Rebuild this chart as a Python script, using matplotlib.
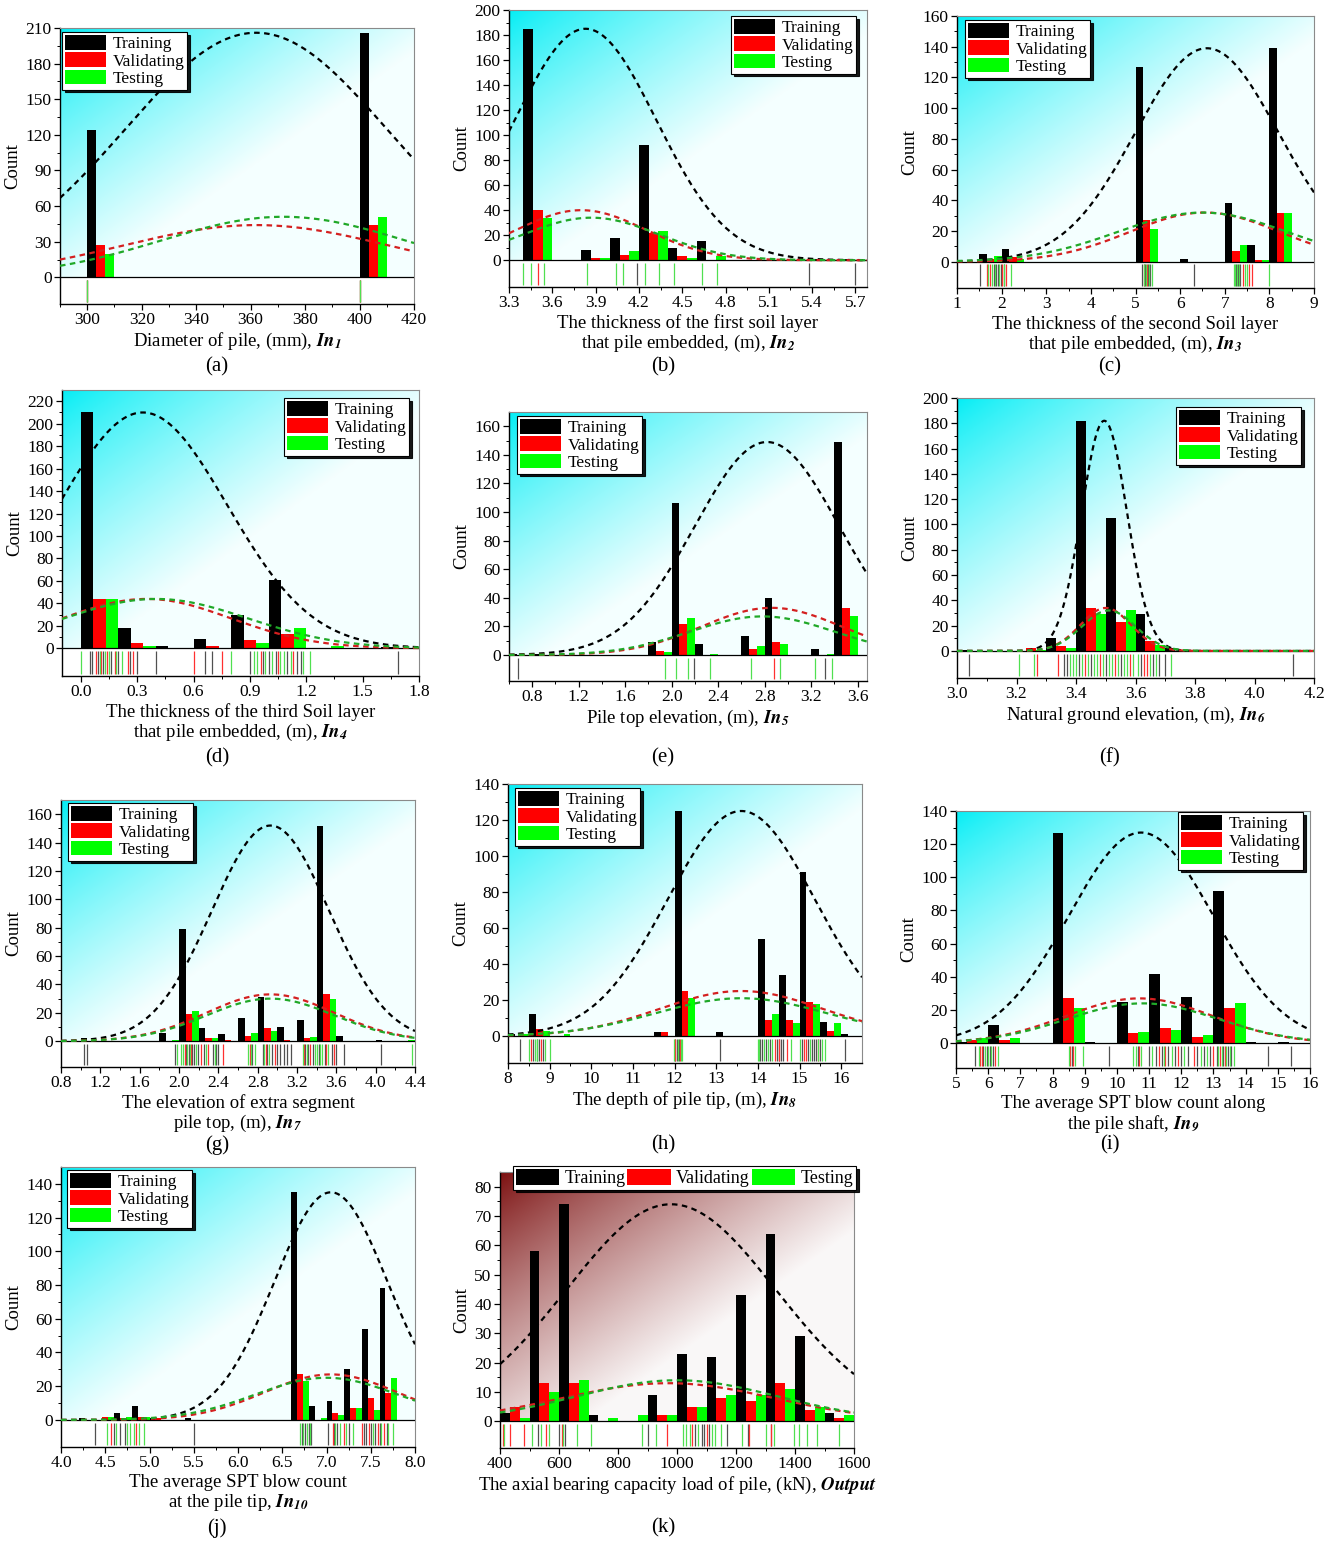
import numpy as np
import matplotlib
matplotlib.use("Agg")
import matplotlib.pyplot as plt
from matplotlib.patches import Patch
from matplotlib.ticker import FixedLocator, FormatStrFormatter

# ======================= DATA =======================
series_names = ["Training", "Validating", "Testing"]

# (a) Diameter of pile
a_bins = [300, 400]
a_width = 10
a_train = [124, 206]
a_val = [27, 44]
a_test = [20, 51]
a_fit = [[362, 48, 206], [362, 49, 44], [372, 45, 51]]   # mean, sd, peak
a_rug_train = [300, 400]
a_rug_val = [300, 400]
a_rug_test = [300, 400]

# (b) thickness of first soil layer
b_bins = [3.4, 3.8, 4.0, 4.2, 4.4, 4.6, 5.4, 5.6]
b_width = 0.2
b_train = [185, 8, 18, 92, 10, 15, 1, 1]
b_val = [40, 2, 4, 22, 3, 0, 0, 0]
b_test = [34, 2, 7, 23, 2, 3, 0, 0]
b_fit = [[3.83, 0.49, 185], [3.80, 0.45, 40], [3.87, 0.47, 34]]
b_rug_train = [4.19, 5.38, 5.70]
b_rug_val = [3.50]
b_rug_test = [3.40, 3.45, 3.54, 3.84, 4.04, 4.09, 4.24, 4.34, 4.44, 4.64, 4.74]

# (c) thickness of second soil layer
c_bins = [1.5, 2.0, 5.0, 6.0, 7.0, 7.5, 8.0]
c_width = 0.5
c_train = [5, 8, 127, 2, 38, 11, 139]
c_val = [2, 3, 27, 0, 7, 1, 32]
c_test = [4, 2, 21, 0, 11, 1, 32]
c_fit = [[6.6, 1.6, 139], [6.55, 1.68, 32], [6.5, 1.9, 32]]
c_rug_train = [1.51, 1.82, 1.88, 1.92, 1.98, 2.05, 5.15, 5.22, 5.28, 5.33, 6.30, 7.25, 7.30, 7.35]
c_rug_val = [1.68, 1.75, 2.00, 2.10, 5.20, 5.26, 7.40, 7.55, 7.62]
c_rug_test = [1.70, 1.78, 1.85, 1.95, 2.05, 2.20, 5.18, 5.24, 5.30, 5.36,
              7.20, 7.23, 7.28, 7.32, 7.45, 7.50, 8.00]

# (d) thickness of third soil layer
d_bins = [0.0, 0.2, 0.4, 0.6, 0.8, 1.0, 1.2, 1.6]
d_width = 0.2
d_train = [210, 18, 2, 8, 30, 61, 0, 1]
d_val = [44, 5, 0, 2, 7, 13, 0, 0]
d_test = [44, 2, 0, 0, 5, 18, 2, 0]
d_fit = [[0.33, 0.45, 210], [0.35, 0.45, 44], [0.40, 0.49, 44]]
d_rug_train = [0.05, 0.06, 0.09, 0.12, 0.16, 0.20, 0.26, 0.30, 0.40, 0.66, 0.70,
               0.90, 0.97, 1.00, 1.04, 1.10, 1.15, 1.17, 1.69]
d_rug_val = [0.08, 0.11, 0.14, 0.18, 0.25, 0.28, 0.60, 0.75, 0.96, 1.05, 1.13]
d_rug_test = [0.0, 0.10, 0.13, 0.15, 0.19, 0.22, 0.80, 0.92, 0.94, 0.98, 1.02,
              1.06, 1.08, 1.12, 1.18, 1.22]

# (e) pile top elevation
e_bins = [0.6, 0.8, 1.8, 2.0, 2.2, 2.6, 2.8, 3.2, 3.4]
e_width = 0.2
e_train = [1, 1, 9, 106, 8, 13, 40, 4, 149]
e_val = [0, 0, 3, 22, 0, 4, 9, 0, 33]
e_test = [0, 0, 2, 26, 1, 6, 8, 1, 27]
e_fit = [[2.82, 0.62, 149], [2.86, 0.60, 33], [2.78, 0.62, 27]]
e_rug_train = [0.68, 2.19, 3.32]
e_rug_val = [2.88]
e_rug_test = [1.94, 2.04, 2.14, 2.33, 2.68, 2.93, 3.23, 3.38]

# (f) natural ground elevation
f_bins = [3.0, 3.2, 3.3, 3.4, 3.5, 3.6, 3.7, 4.1]
f_width = 0.1
f_train = [1, 0, 10, 182, 105, 29, 2, 1]
f_val = [0, 2, 4, 34, 23, 8, 0, 0]
f_test = [0, 1, 2, 29, 32, 5, 1, 0]
f_fit = [[3.495, 0.076, 182], [3.50, 0.085, 34], [3.51, 0.09, 32]]
f_rug_train = [3.04, 3.36, 3.37, 3.41, 3.45, 3.50, 3.55, 3.62, 3.66, 3.68, 3.70, 4.13]
f_rug_val = [3.27, 3.34, 3.43, 3.48, 3.53, 3.58, 3.63, 3.64]
f_rug_test = [3.21, 3.26, 3.38, 3.39, 3.40, 3.42, 3.44, 3.46, 3.47, 3.49, 3.51, 3.52,
              3.54, 3.56, 3.57, 3.59, 3.61, 3.65, 3.67, 3.72]

# (g) elevation of extra segment pile top
g_bins = [1.0, 1.8, 2.0, 2.2, 2.4, 2.6, 2.8, 3.0, 3.2, 3.4, 3.6, 4.0, 4.2]
g_width = 0.2
g_train = [2, 6, 79, 9, 5, 16, 31, 10, 15, 152, 4, 1, 0]
g_val = [0, 0, 19, 2, 1, 4, 9, 1, 2, 33, 0, 0, 0]
g_test = [0, 1, 21, 2, 0, 6, 7, 0, 3, 30, 0, 0, 1]
g_fit = [[2.93, 0.595, 152], [2.93, 0.65, 33], [2.93, 0.65, 30]]
g_rug_train = [1.03, 1.06, 1.96, 2.07, 2.10, 2.13, 2.15, 2.19, 2.25, 2.35, 2.38, 2.40,
               2.74, 2.85, 2.90, 2.95, 3.00, 3.03, 3.07, 3.10, 3.14, 3.28, 3.31, 3.36,
               3.42, 3.48, 3.56, 3.60, 3.68, 4.05]
g_rug_val = [2.06, 2.12, 2.22, 2.30, 2.45, 2.72, 2.88, 2.98, 3.27, 3.33, 3.50, 3.58]
g_rug_test = [1.98, 2.02, 2.04, 2.08, 2.11, 2.17, 2.27, 2.37, 2.70, 2.73, 2.77, 2.86,
              2.92, 3.26, 3.30, 3.38, 3.40, 3.43, 3.45, 3.52, 4.37]

# (h) depth of pile tip
h_bins = [8.0, 8.5, 9.0, 11.5, 12.0, 13.0, 14.0, 14.5, 15.0, 15.5, 16.0]
h_width = 0.5
h_train = [1, 12, 0, 2, 125, 2, 54, 34, 91, 8, 1]
h_val = [0, 4, 0, 2, 25, 0, 9, 9, 19, 3, 0]
h_test = [1, 3, 1, 0, 21, 0, 12, 7, 18, 7, 0]
h_fit = [[13.6, 1.77, 125], [13.6, 1.95, 25], [13.6, 2.05, 21]]
h_rug_train = [8.3, 8.6, 8.7, 8.75, 8.85, 12.0, 12.05, 12.1, 13.1, 14.05, 14.1, 14.2,
               14.3, 14.45, 14.5, 14.55, 14.6, 15.05, 15.2, 15.3, 15.35, 15.4, 15.5, 16.1]
h_rug_val = [8.55, 8.8, 12.02, 12.12, 14.4, 14.5, 14.7, 15.1, 15.15, 15.45]
h_rug_test = [8.5, 8.65, 8.7, 8.9, 9.0, 11.98, 12.08, 12.15, 12.18, 14.0, 14.02, 14.15,
              14.25, 14.35, 14.8, 15.0, 15.25, 15.45, 15.55, 15.6]

# (i) average SPT blow count along the pile shaft
i_bins = [5, 6, 8, 9, 10, 11, 12, 13, 14, 15]
i_width = 1.0
i_train = [1, 11, 127, 1, 25, 42, 28, 92, 1, 1]
i_val = [2, 2, 27, 0, 6, 9, 4, 21, 0, 0]
i_test = [3, 3, 21, 0, 7, 8, 5, 24, 0, 0]
i_fit = [[10.75, 2.24, 127], [10.7, 2.28, 27], [10.8, 2.35, 24]]
i_rug_train = [5.58, 5.85, 5.95, 6.05, 6.15, 8.6, 9.74, 10.65, 11.0, 11.2, 11.4, 11.6,
               11.8, 12.0, 12.2, 12.5, 12.7, 12.9, 13.1, 13.3, 13.45, 13.55, 14.69, 15.41]
i_rug_val = [5.75, 5.8, 6.2, 8.55, 8.65, 10.7, 11.3, 11.5, 11.9, 12.4, 13.0, 13.2, 13.35]
i_rug_test = [5.72, 5.9, 6.0, 6.1, 6.3, 8.5, 8.7, 8.95, 10.5, 10.6, 10.75, 11.1, 11.45,
              11.7, 12.1, 12.6, 12.8, 13.15, 13.25, 13.4, 13.5, 13.65]

# (j) average SPT blow count at the pile tip
j_bins = [4.2, 4.4, 4.6, 4.8, 5.0, 5.4, 6.6, 6.8, 7.0, 7.2, 7.4, 7.6]
j_width = 0.2
j_train = [1, 0, 4, 8, 1, 1, 135, 8, 11, 30, 54, 78]
j_val = [0, 2, 1, 2, 1, 0, 27, 0, 4, 7, 13, 16]
j_test = [0, 2, 2, 2, 0, 0, 23, 1, 3, 7, 6, 25]
j_fit = [[7.05, 0.64, 135], [7.05, 0.75, 27], [7.0, 0.80, 25]]
j_rug_train = [4.38, 4.60, 4.67, 4.72, 5.50, 6.72, 6.76, 6.80, 6.83, 7.02, 7.08, 7.12,
               7.25, 7.42, 7.45, 7.50, 7.55, 7.60, 7.68]
j_rug_val = [4.57, 4.85, 7.07, 7.20, 7.40, 7.48, 7.58, 7.65]
j_rug_test = [4.52, 4.62, 4.75, 4.78, 4.82, 4.88, 4.94, 6.70, 6.74, 6.78, 6.81, 7.10,
              7.15, 7.22, 7.30, 7.52, 7.62, 7.70, 7.75]

# (k) axial bearing capacity (output)
k_bins = [400, 500, 600, 700, 800, 900, 1000, 1100, 1200, 1300, 1400, 1500]
k_width = 100
k_train = [3, 58, 74, 2, 0, 9, 23, 22, 43, 64, 29, 3]
k_val = [5, 13, 13, 0, 0, 2, 5, 8, 7, 13, 4, 1]
k_test = [1, 10, 14, 1, 2, 2, 5, 9, 9, 11, 5, 2]
k_fit = [[980, 355, 74], [970, 360, 13], [1000, 342, 14]]
k_rug_train = [530, 600, 620, 900, 1060, 1085, 1090, 1110, 1170, 1240, 1320]
k_rug_val = [410, 435, 480, 555, 610, 965, 1050, 1100, 1245, 1320]
k_rug_test = [415, 510, 540, 565, 615, 660, 710, 880, 930, 1020, 1030, 1045, 1070, 1120,
              1130, 1150, 1220, 1300, 1330, 1395, 1415, 1440, 1475, 1550]

IN = lambda n: r"$\mathbfit{In}_{\mathbfit{%s}}$" % n
xlabels = {
    "a": "Diameter of pile, (mm), " + IN(1),
    "b": "The thickness of the first soil layer\nthat pile embedded, (m), " + IN(2),
    "c": "The thickness of the second Soil layer\nthat pile embedded, (m), " + IN(3),
    "d": "The thickness of the third Soil layer\nthat pile embedded, (m), " + IN(4),
    "e": "Pile top elevation, (m), " + IN(5),
    "f": "Natural ground elevation, (m), " + IN(6),
    "g": "The elevation of extra segment\npile top, (m), " + IN(7),
    "h": "The depth of pile tip, (m), " + IN(8),
    "i": "The average SPT blow count along\nthe pile shaft, " + IN(9),
    "j": "The average SPT blow count\nat the pile tip, " + IN(10),
    "k": "The axial bearing capacity load of pile, (kN), " + r"$\mathbfit{Output}$",
}

# ======================= LAYOUT / STYLE =======================
plt.rcParams["font.family"] = ["Liberation Serif", "DejaVu Serif"]
plt.rcParams["mathtext.fontset"] = "stix"

W, H = 1335, 1543
fig = plt.figure(figsize=(W / 100, H / 100), dpi=100)

# left, right, top, bottom (pixels)
POS = {
    "a": (60, 414, 28, 304), "b": (509, 867, 10, 287), "c": (957, 1314, 16, 288),
    "d": (62, 419, 390, 676), "e": (509, 867, 412, 681), "f": (957, 1314, 398, 678),
    "g": (61, 415, 800, 1067), "h": (508, 862, 784, 1063), "i": (956, 1310, 811, 1068),
    "j": (61, 415, 1167, 1447), "k": (500, 854, 1172, 1448),
}
AX = {  # xlim, xticks(start, stop, step), fmt, ymax, ytick step
    "a": ((290, 420), (300, 420, 20), "%d", 210, 30),
    "b": ((3.3, 5.78), (3.3, 5.7, 0.3), "%.1f", 200, 20),
    "c": ((1, 9), (1, 9, 1), "%d", 160, 20),
    "d": ((-0.1, 1.8), (0.0, 1.8, 0.3), "%.1f", 230, 20),
    "e": ((0.6, 3.68), (0.8, 3.6, 0.4), "%.1f", 170, 20),
    "f": ((3.0, 4.2), (3.0, 4.2, 0.2), "%.1f", 200, 20),
    "g": ((0.8, 4.4), (0.8, 4.4, 0.4), "%.1f", 170, 20),
    "h": ((8, 16.5), (8, 16, 1), "%d", 140, 20),
    "i": ((5, 16), (5, 16, 1), "%d", 140, 20),
    "j": ((4.0, 8.0), (4.0, 8.0, 0.5), "%.1f", 150, 20),
    "k": ((400, 1600), (400, 1600, 200), "%d", 85, 10),
}
LEG = {
    "a": ("upper left", 62, 32), "b": ("upper right", 856, 16), "c": ("upper left", 965, 20),
    "d": ("upper right", 409, 398), "e": ("upper left", 517, 416), "f": ("upper right", 1301, 407),
    "g": ("upper left", 68, 803), "h": ("upper left", 515, 788), "i": ("upper right", 1303, 812),
    "j": ("upper left", 67, 1170), "k": ("upper right", 856, 1166),
}
LABEL_POS = {"a": (217, 367), "b": (663, 367), "c": (1110, 367),
             "d": (217, 758), "e": (663, 758), "f": (1110, 758),
             "g": (217, 1145), "h": (663, 1145), "i": (1110, 1145),
             "j": (217, 1528), "k": (663, 1528)}

BAR_COLORS = ["#000000", "#FF0000", "#00FF00"]
FIT_COLORS = ["#000000", "#D42020", "#20A828"]
RUG_COLORS = ["#505050", "#FF3030", "#50E050"]
RUG_FRAC = 0.107

PANELS = {
    "a": (a_bins, a_width, a_train, a_val, a_test, a_fit, a_rug_train, a_rug_val, a_rug_test),
    "b": (b_bins, b_width, b_train, b_val, b_test, b_fit, b_rug_train, b_rug_val, b_rug_test),
    "c": (c_bins, c_width, c_train, c_val, c_test, c_fit, c_rug_train, c_rug_val, c_rug_test),
    "d": (d_bins, d_width, d_train, d_val, d_test, d_fit, d_rug_train, d_rug_val, d_rug_test),
    "e": (e_bins, e_width, e_train, e_val, e_test, e_fit, e_rug_train, e_rug_val, e_rug_test),
    "f": (f_bins, f_width, f_train, f_val, f_test, f_fit, f_rug_train, f_rug_val, f_rug_test),
    "g": (g_bins, g_width, g_train, g_val, g_test, g_fit, g_rug_train, g_rug_val, g_rug_test),
    "h": (h_bins, h_width, h_train, h_val, h_test, h_fit, h_rug_train, h_rug_val, h_rug_test),
    "i": (i_bins, i_width, i_train, i_val, i_test, i_fit, i_rug_train, i_rug_val, i_rug_test),
    "j": (j_bins, j_width, j_train, j_val, j_test, j_fit, j_rug_train, j_rug_val, j_rug_test),
    "k": (k_bins, k_width, k_train, k_val, k_test, k_fit, k_rug_train, k_rug_val, k_rug_test),
}


def gradient(ax, x0, x1, y1, c0, c1, spread=0.55, gamma=0.8):
    nx, ny = 300, 300
    xn = np.linspace(0, 1, nx)[None, :]
    yn = np.linspace(0, 1, ny)[:, None]
    t = (xn + (1 - yn)) / 2.0
    s = np.clip(t / spread, 0, 1) ** gamma
    c0 = np.array(c0)[None, None, :]
    c1 = np.array(c1)[None, None, :]
    img = c0 * (1 - s[..., None]) + c1 * s[..., None]
    ax.imshow(img, extent=[x0, x1, 0, y1], origin="lower", aspect="auto",
              zorder=0, interpolation="bilinear")


for key, (bins, w, tr, va, te, fits, rtr, rva, rte) in PANELS.items():
    l, r, t, b = POS[key]
    ax = fig.add_axes([l / W, 1 - b / H, (r - l) / W, (b - t) / H])
    (x0, x1), (ts, te_, tstep), fmt, ymax, ystep = AX[key]
    rug = RUG_FRAC * ymax
    ax.set_xlim(x0, x1)
    ax.set_ylim(-rug, ymax)

    if key == "k":
        gradient(ax, x0, x1, ymax, (0.48, 0.05, 0.05), (0.98, 0.97, 0.97), spread=0.62, gamma=0.85)
    else:
        gradient(ax, x0, x1, ymax, (0.0, 0.93, 0.96), (0.96, 1.0, 1.0))

    sub = w / 3.0
    bins_arr = np.array(bins, dtype=float)
    for k_, vals in enumerate([tr, va, te]):
        ax.bar(bins_arr + k_ * sub, vals, width=sub, align="edge",
               color=BAR_COLORS[k_], edgecolor="none", zorder=2)

    xs = np.linspace(x0, x1, 500)
    for k_, (m, sd, pk) in enumerate(fits):
        ax.plot(xs, pk * np.exp(-0.5 * ((xs - m) / sd) ** 2), ls=(0, (2.5, 2)),
                lw=1.6, color=FIT_COLORS[k_], zorder=4)

    for k_, rv in enumerate([rtr, rva, rte]):
        ax.vlines(rv, -0.93 * rug, -0.1 * rug, colors=RUG_COLORS[k_], lw=0.9, zorder=3)

    ax.axhline(0, color="black", lw=0.9, zorder=3)

    xt = np.arange(ts, te_ + tstep / 2, tstep)
    ax.xaxis.set_major_locator(FixedLocator(xt))
    ax.xaxis.set_major_formatter(FormatStrFormatter(fmt))
    ax.xaxis.set_minor_locator(FixedLocator(np.arange(ts - tstep / 2, x1, tstep)))
    yt = np.arange(0, ymax + 0.01, ystep)
    ax.yaxis.set_major_locator(FixedLocator(yt))
    ax.yaxis.set_minor_locator(FixedLocator(np.arange(ystep / 2, ymax, ystep)))
    ax.tick_params(which="major", direction="out", length=4, width=0.9, labelsize=12.5, pad=2)
    ax.tick_params(which="minor", direction="out", length=2, width=0.7)
    for sp in ["left", "bottom"]:
        ax.spines[sp].set_color("black")
        ax.spines[sp].set_linewidth(1.0)
    for sp in ["top", "right"]:
        ax.spines[sp].set_color("#8a8a8a")
        ax.spines[sp].set_linewidth(0.8)

    ax.set_ylabel("Count", fontsize=13.5, labelpad=3)
    ax.set_xlabel(xlabels[key], fontsize=13.5, labelpad=2, linespacing=1.05)

    handles = [Patch(facecolor=c, edgecolor="none") for c in BAR_COLORS]
    loc, px, py = LEG[key]
    if key == "k":
        leg = ax.legend(handles, series_names, loc=loc, bbox_to_anchor=(px / W, 1 - py / H),
                        bbox_transform=fig.transFigure, ncol=3, fontsize=13,
                        handlelength=2.4, handleheight=1.0, handletextpad=0.3,
                        columnspacing=0.1, borderpad=0.15, borderaxespad=0,
                        fancybox=False, framealpha=1, edgecolor="black",
                        shadow={"color": "black", "alpha": 0.9})
    else:
        leg = ax.legend(handles, series_names, loc=loc, bbox_to_anchor=(px / W, 1 - py / H),
                        bbox_transform=fig.transFigure, fontsize=12.5,
                        handlelength=2.4, handleheight=0.95, handletextpad=0.35,
                        labelspacing=0.0, borderpad=0.15, borderaxespad=0,
                        fancybox=False, framealpha=1, edgecolor="black",
                        shadow={"color": "black", "alpha": 0.9})
    leg.get_frame().set_linewidth(0.8)
    leg.set_zorder(6)

    lx, ly = LABEL_POS[key]
    fig.text(lx / W, 1 - ly / H, "(%s)" % key, ha="center", va="center", fontsize=15)

fig.savefig("out.png", dpi=100)
